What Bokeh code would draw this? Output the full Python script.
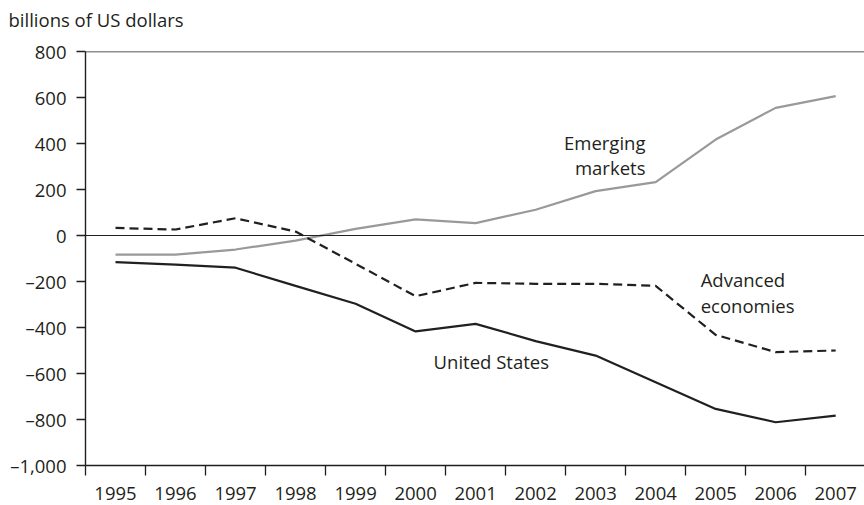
from bokeh.plotting import figure
from bokeh.models import Range1d, FixedTicker, Span, Label
from bokeh.embed import file_html
from bokeh.resources import INLINE

years = [1995, 1996, 1997, 1998, 1999, 2000, 2001, 2002, 2003, 2004, 2005, 2006, 2007]
united_states = [-116, -127, -140, -219, -297, -417, -384, -459, -522, -638, -754, -812, -783]
advanced = [33, 26, 75, 17, -123, -264, -206, -210, -210, -219, -432, -507, -500]
emerging = [-83, -83, -61, -22, 29, 70, 54, 112, 193, 232, 417, 555, 606]

y_ticks = [-1000, -800, -600, -400, -200, 0, 200, 400, 600, 800]
y_labels = {-1000: "\u20131,000", -800: "\u2013800", -600: "\u2013600", -400: "\u2013400",
            -200: "\u2013200", 0: "0", 200: "200", 400: "400", 600: "600", 800: "800"}

FONT = "Open Sans"
INK = "#231f20"
FS = "18.5px"

p = figure(width=864, height=505, output_backend="svg", toolbar_location=None,
           x_range=Range1d(1994.5, 2007.48), y_range=Range1d(-1000, 800),
           min_border_left=85, min_border_right=0, min_border_top=51, min_border_bottom=40)
p.outline_line_color = None
p.grid.visible = False
p.background_fill_color = "white"

# title (a trailing empty line lifts it towards the top of the canvas)
p.title.text = "billions of US dollars\n"
p.title.align = "left"
p.title.offset = -77
p.title.text_font = FONT
p.title.text_font_size = FS
p.title.text_font_style = "normal"
p.title.text_color = INK
p.title.text_line_height = 0.78
p.title.standoff = 0

# x axis
xa = p.xaxis[0]
xa.ticker = FixedTicker(ticks=years, minor_ticks=[1994.5 + k for k in range(14)])
xa.major_tick_line_color = None
xa.minor_tick_out = 10
xa.minor_tick_in = 0
xa.minor_tick_line_color = INK
xa.minor_tick_line_width = 1.3
xa.axis_line_color = INK
xa.axis_line_width = 1.4
xa.major_label_text_font = FONT
xa.major_label_text_font_size = FS
xa.major_label_text_color = INK
xa.major_label_standoff = 11

# y axis
ya = p.yaxis[0]
ya.ticker = FixedTicker(ticks=y_ticks)
ya.major_label_overrides = y_labels
ya.major_tick_out = 9
ya.major_tick_in = 0
ya.major_tick_line_color = INK
ya.major_tick_line_width = 1.3
ya.minor_tick_line_color = None
ya.axis_line_color = INK
ya.axis_line_width = 1.4
ya.major_label_text_font = FONT
ya.major_label_text_font_size = FS
ya.major_label_text_color = INK
ya.major_label_standoff = 10

p.add_layout(Span(location=800, dimension="width", line_color=INK, line_width=1.4))
p.add_layout(Span(location=0, dimension="width", line_color=INK, line_width=1.2))

p.line(years, emerging, line_color="#999999", line_width=2.2)
p.line(years, advanced, line_color=INK, line_width=2.2, line_dash="9 5")
p.line(years, united_states, line_color=INK, line_width=2.2)

def lab(x, y, t, align):
    p.add_layout(Label(x=x, y=y, text=t, text_font=FONT, text_font_size=FS,
                       text_color=INK, text_align=align, text_baseline="middle"))

lab(2003.83, 404, "Emerging", "right")
lab(2003.83, 294, "markets", "right")
lab(2004.75, -191, "Advanced", "left")
lab(2004.75, -304, "economies", "left")
lab(2000.3, -546, "United States", "left")

open("out.html", "w").write(file_html(p, INLINE))
